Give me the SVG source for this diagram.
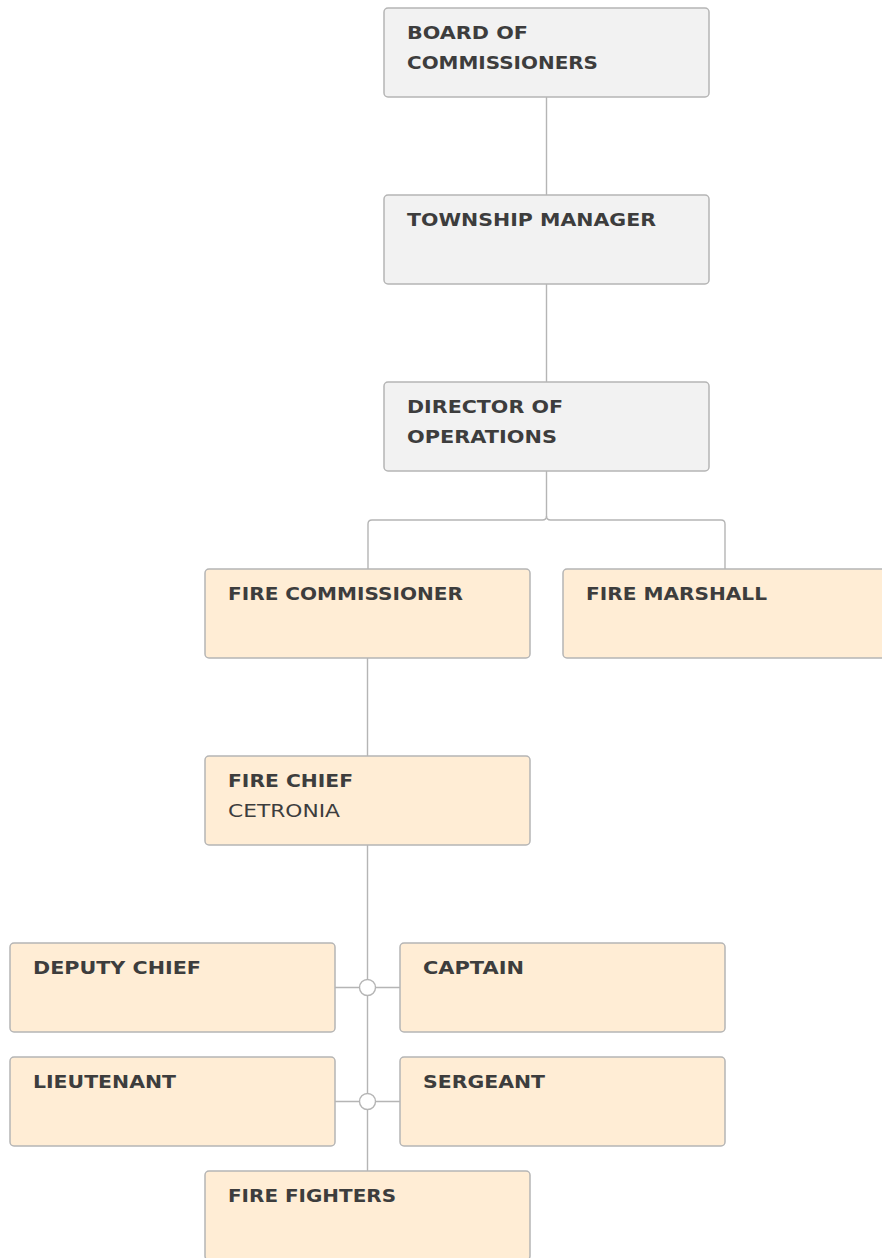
<svg xmlns="http://www.w3.org/2000/svg" width="882" height="1258" viewBox="0 0 882 1258">
<style>
.box{stroke:#b5b5b5;stroke-width:1.5}
.g{fill:#f2f2f2}
.b{fill:#ffedd5}
.t{font-family:"DejaVu Sans","Liberation Sans",sans-serif;font-weight:bold;font-size:18px;fill:#3d3d3d}
.s{font-family:"DejaVu Sans","Liberation Sans",sans-serif;font-weight:normal;font-size:18px;fill:#3d3d3d}
.c{fill:none;stroke:#b5b5b5;stroke-width:1.4}
.j{fill:#ffffff;stroke:#b5b5b5;stroke-width:1.4}
</style>
<rect width="882" height="1258" fill="#ffffff"/>
<g id="connectors">
<path class="c" d="M546.5,97 V195"/>
<path class="c" d="M546.5,284 V382"/>
<path class="c" d="M546.5,471 V516 Q546.5,520 542.5,520 H372 Q368,520 368,524 V569"/>
<path class="c" d="M546.5,516 Q546.5,520 550.5,520 H721 Q725,520 725,524 V569"/>
<path class="c" d="M367.5,658 V756"/>
<path class="c" d="M367.5,845 V1171"/>
<path class="c" d="M335,987.5 H400"/>
<path class="c" d="M335,1101.5 H400"/>
<circle class="j" cx="367.5" cy="987.5" r="8"/>
<circle class="j" cx="367.5" cy="1101.5" r="8"/>
</g>
<g id="board">
<rect class="box g" x="384" y="8" width="325" height="89" rx="4"/>
<text class="t" x="407" y="38.5" textLength="121" lengthAdjust="spacingAndGlyphs">BOARD OF</text>
<text class="t" x="407" y="68.5" textLength="191" lengthAdjust="spacingAndGlyphs">COMMISSIONERS</text>
</g>
<g id="township-manager">
<rect class="box g" x="384" y="195" width="325" height="89" rx="4"/>
<text class="t" x="407" y="225.5" textLength="249" lengthAdjust="spacingAndGlyphs">TOWNSHIP MANAGER</text>
</g>
<g id="director">
<rect class="box g" x="384" y="382" width="325" height="89" rx="4"/>
<text class="t" x="407" y="412.5" textLength="156" lengthAdjust="spacingAndGlyphs">DIRECTOR OF</text>
<text class="t" x="407" y="442.5" textLength="150" lengthAdjust="spacingAndGlyphs">OPERATIONS</text>
</g>
<g id="fire-commissioner">
<rect class="box b" x="205" y="569" width="325" height="89" rx="4"/>
<text class="t" x="228" y="599.5" textLength="235" lengthAdjust="spacingAndGlyphs">FIRE COMMISSIONER</text>
</g>
<g id="fire-marshall">
<rect class="box b" x="563" y="569" width="325" height="89" rx="4"/>
<text class="t" x="586" y="599.5" textLength="181" lengthAdjust="spacingAndGlyphs">FIRE MARSHALL</text>
</g>
<g id="fire-chief">
<rect class="box b" x="205" y="756" width="325" height="89" rx="4"/>
<text class="t" x="228" y="786.5" textLength="125" lengthAdjust="spacingAndGlyphs">FIRE CHIEF</text>
<text class="s" x="228" y="817" textLength="112" lengthAdjust="spacingAndGlyphs">CETRONIA</text>
</g>
<g id="deputy-chief">
<rect class="box b" x="10" y="943" width="325" height="89" rx="4"/>
<text class="t" x="33" y="973.5" textLength="168" lengthAdjust="spacingAndGlyphs">DEPUTY CHIEF</text>
</g>
<g id="captain">
<rect class="box b" x="400" y="943" width="325" height="89" rx="4"/>
<text class="t" x="423" y="973.5" textLength="101" lengthAdjust="spacingAndGlyphs">CAPTAIN</text>
</g>
<g id="lieutenant">
<rect class="box b" x="10" y="1057" width="325" height="89" rx="4"/>
<text class="t" x="33" y="1087.5" textLength="143" lengthAdjust="spacingAndGlyphs">LIEUTENANT</text>
</g>
<g id="sergeant">
<rect class="box b" x="400" y="1057" width="325" height="89" rx="4"/>
<text class="t" x="423" y="1087.5" textLength="122" lengthAdjust="spacingAndGlyphs">SERGEANT</text>
</g>
<g id="fire-fighters">
<rect class="box b" x="205" y="1171" width="325" height="89" rx="4"/>
<text class="t" x="228" y="1201.5" textLength="168" lengthAdjust="spacingAndGlyphs">FIRE FIGHTERS</text>
</g>
</svg>
